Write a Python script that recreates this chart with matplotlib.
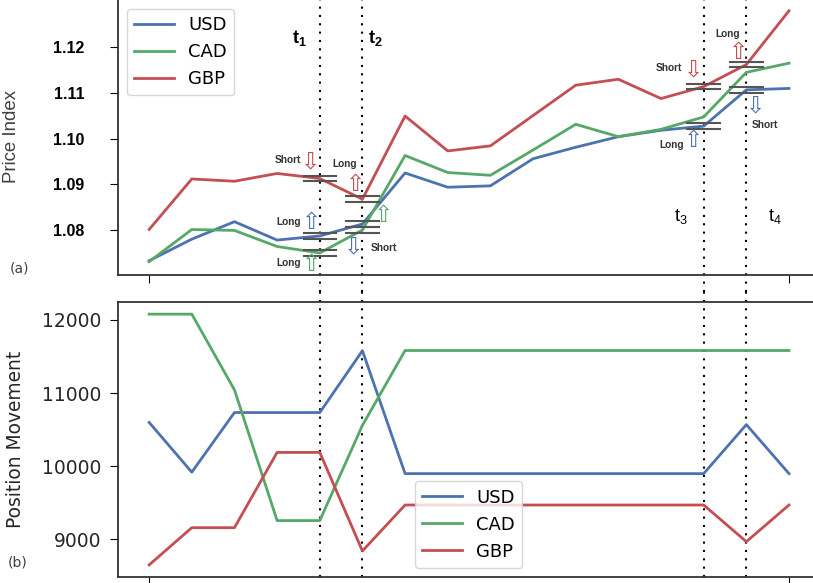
import matplotlib.pyplot as plt

plt.rcParams['mathtext.fontset'] = 'custom'
plt.rcParams['mathtext.bf'] = 'Liberation Sans:bold'
plt.rcParams['mathtext.rm'] = 'Liberation Sans'

# ---- data ----
steps = list(range(16))
currencies = ['USD', 'CAD', 'GBP']
colors = ['#4C72B0', '#55A868', '#C44E52']

usd_price = [1.0734, 1.0781, 1.0819, 1.0779, 1.0788, 1.0814, 1.0925, 1.0894,
             1.0897, 1.0956, 1.0981, 1.1004, 1.1018, 1.1027, 1.1106, 1.1109]
cad_price = [1.0732, 1.0802, 1.0800, 1.0765, 1.0751, 1.0801, 1.0963, 1.0926,
             1.0920, 1.0975, 1.1031, 1.1004, 1.1020, 1.1047, 1.1144, 1.1164]
gbp_price = [1.0802, 1.0912, 1.0907, 1.0924, 1.0913, 1.0868, 1.1049, 1.0973,
             1.0984, 1.1050, 1.1116, 1.1129, 1.1087, 1.1113, 1.1161, 1.1278]

usd_pos = [10600, 9920, 10735, 10735, 10735, 11580, 9900, 9900,
           9900, 9900, 9900, 9900, 9900, 9900, 10570, 9900]
cad_pos = [12080, 12080, 11045, 9258, 9258, 10560, 11583, 11583,
           11583, 11583, 11583, 11583, 11583, 11583, 11583, 11583]
gbp_pos = [8652, 9161, 9161, 10190, 10190, 8843, 9471, 9471,
           9471, 9471, 9471, 9471, 9471, 9471, 8970, 9471]

prices = [usd_price, cad_price, gbp_price]
positions = [usd_pos, cad_pos, gbp_pos]

event_steps = [4, 5, 13, 14]
event_names = [r'$\mathbf{t_1}$', r'$\mathbf{t_2}$', r'$\mathrm{t_3}$', r'$\mathrm{t_4}$']

# trades: (currency index, step, label, arrow, label offset px, arrow offset px)
trades = [
    (2, 4, 'Short', '\u21e9', (-32, 19), (-10, 17)),
    (0, 4, 'Long', '\u21e7', (-31, 14), (-9, 13)),
    (1, 4, 'Long', '\u21e7', (-31, -10), (-9, -12)),
    (2, 5, 'Long', '\u21e7', (-18, 35), (-8, 15)),
    (1, 5, '', '\u21e7', (20, 14), (20, 14)),
    (0, 5, 'Short', '\u21e9', (21, -24), (-10, -23)),
    (2, 13, 'Short', '\u21e9', (-35, 19), (-11, 17)),
    (0, 13, 'Long', '\u21e7', (-32, -19), (-11, -14)),
    (2, 14, 'Long', '\u21e7', (-19, 31), (-9, 12)),
    (0, 14, 'Short', '\u21e9', (19, -35), (8, -16)),
]

W, H = 813, 583
fig = plt.figure(figsize=(W / 100, H / 100), dpi=100)
ax1 = fig.add_axes([118 / W, (H - 275) / H, 703 / W, 278 / H])
ax2 = fig.add_axes([118 / W, (H - 577) / H, 703 / W, 275 / H])

# ---- top panel: price index ----
for name, col, ys in zip(currencies, colors, prices):
    ax1.plot(steps, ys, color=col, lw=2, label=name)

for ci, st, lab, arr, toff, aoff in trades:
    v = prices[ci][st]
    for d in (-0.0006, 0.0006):
        ax1.plot([st - 0.38, st + 0.38], [v + d, v + d], color='#555555', lw=1.5, zorder=3)
    ax1.annotate(arr, xy=(st, v), xytext=aoff, textcoords='offset pixels',
                 ha='center', va='center', fontsize=16.5, color=colors[ci],
                 family='DejaVu Sans')
    if lab:
        ax1.annotate(lab, xy=(st, v), xytext=toff, textcoords='offset pixels',
                     ha='center', va='center', fontsize=7.3, fontweight='bold',
                     color='#333333', family='Liberation Sans')

label_off = [(-20, 0.853), (13, 0.853), (-23, 0.209), (29, 0.209)]
for st, nm, (dx, fy) in zip(event_steps, event_names, label_off):
    ax1.annotate(nm, xy=(st, fy), xycoords=('data', 'axes fraction'),
                 xytext=(dx, 0), textcoords='offset pixels',
                 ha='center', va='center', fontsize=13, color='black')

ax1.set_xlim(-0.73, 15.75)
ax1.set_ylim(1.0703, 1.1308)
ax1.set_yticks([1.08, 1.09, 1.10, 1.11, 1.12])
ax1.set_yticklabels(['1.08', '1.09', '1.10', '1.11', '1.12'],
                    fontweight='bold', family='Liberation Sans', fontsize=11.5)
ax1.tick_params(axis='y', length=6, pad=18, colors='black')
ax1.set_xticks([0, 15])
ax1.set_xticklabels([])
ax1.tick_params(axis='x', length=6)
ax1.set_ylabel('Price Index', fontsize=13.4, color='#404040', family='Liberation Sans')
ax1.yaxis.set_label_coords(-0.139, 0.5)
ax1.legend(loc='upper left', bbox_to_anchor=(0.0128, 0.957), borderaxespad=0,
           fontsize=13, handlelength=2.2)

# ---- bottom panel: position movement ----
for name, col, ys in zip(currencies, colors, positions):
    ax2.plot(steps, ys, color=col, lw=2, label=name)

ax2.set_xlim(-0.73, 15.75)
ax2.set_ylim(8487, 12246)
ax2.set_yticks([9000, 10000, 11000, 12000])
ax2.tick_params(axis='y', labelsize=13.5, labelcolor='#262626', length=6, pad=6)
ax2.set_xticks([0, 15])
ax2.set_xticklabels([])
ax2.tick_params(axis='x', length=6)
ax2.set_ylabel('Position Movement', fontsize=13.4, color='#262626')
ax2.yaxis.set_label_coords(-0.132, 0.5)
ax2.legend(loc='lower left', bbox_to_anchor=(0.4225, 0.033), borderaxespad=0,
           fontsize=13, handlelength=2.2)

for ax in (ax1, ax2):
    for sp in ax.spines.values():
        sp.set_color('#333333')
        sp.set_linewidth(1.3)

# dotted event lines running through both panels
for st in event_steps:
    ax1.axvline(st, ymin=-0.06, ymax=1, color='black', lw=1.5,
                ls=(0, (1, 3)), clip_on=False, zorder=1)
    ax2.axvline(st, ymin=0, ymax=1.04, color='black', lw=1.5,
                ls=(0, (1, 3)), clip_on=False, zorder=1)

fig.text(19 / W, 1 - 268 / H, '(a)', fontsize=10, color='#404040', ha='center', va='center')
fig.text(17.5 / W, 1 - 562 / H, '(b)', fontsize=10, color='#404040', ha='center', va='center')

fig.savefig('out.png', dpi=100)
